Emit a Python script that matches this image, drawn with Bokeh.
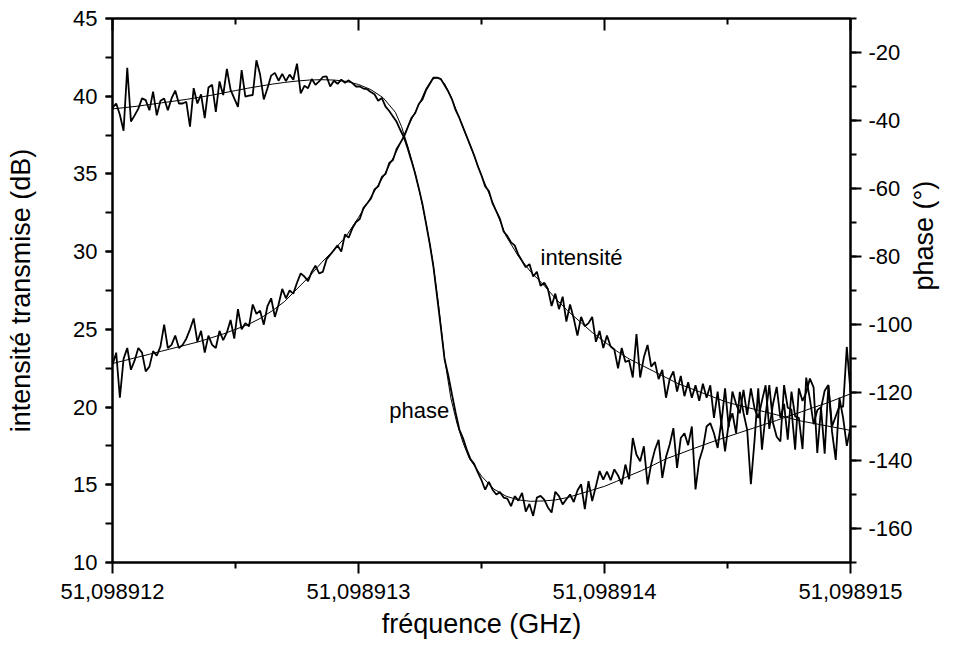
import math
import numpy as np
from bokeh.plotting import figure
from bokeh.models import (Range1d, LinearAxis, SingleIntervalTicker, FixedTicker, Label,
                          NumeralTickFormatter, CustomLabelingPolicy)
from bokeh.embed import file_html
from bokeh.resources import INLINE

# ---------------- data ----------------
# frequency offset from 51,098912 GHz, in units of 1e-6 GHz (kHz)
freq_ticks = [0, 1, 2, 3]
freq_tick_labels = ["51,098912", "51,098913", "51,098914", "51,098915"]
freq_step = 0.015  # sampling step of the measured sweep
n_points = 201

intensity_db = [
    22.7, 23.5, 20.6, 23.1, 23.8, 22.4, 23.0, 23.8, 23.5, 22.3,
    22.6, 23.6, 23.3, 23.9, 25.3, 23.8, 24.0, 24.6, 23.8, 24.0,
    24.4, 25.0, 25.7, 24.2, 24.9, 23.5, 24.6, 24.0, 23.8, 24.9,
    24.3, 24.8, 25.6, 24.4, 26.3, 25.0, 25.4, 25.2, 26.6, 26.0,
    26.2, 25.3, 26.5, 27.0, 25.8, 26.6, 27.6, 27.0, 27.5, 27.3,
    28.0, 28.6, 28.4, 28.1, 28.7, 29.1, 28.6, 28.7, 29.5, 29.8,
    30.1, 30.4, 30.0, 31.1, 30.9, 31.5, 31.9, 32.1, 32.8, 33.1,
    33.4, 34.0, 34.2, 34.8, 35.0, 35.7, 35.9, 36.6, 37.0, 37.4,
    38.0, 38.6, 38.9, 39.5, 39.8, 40.4, 40.8, 41.2, 41.2, 41.1,
    40.7, 40.3, 39.8, 39.1, 38.6, 38.0, 37.4, 36.8, 36.2, 35.5,
    34.9, 34.2, 33.9, 33.1, 32.6, 32.1, 31.3, 31.0, 30.6, 30.4,
    29.8, 29.4, 29.0, 29.2, 28.4, 28.7, 27.8, 28.0, 27.6, 26.5,
    27.3, 26.3, 27.1, 25.5, 26.6, 25.7, 24.6, 25.8, 25.2, 25.4,
    25.8, 24.2, 24.9, 23.8, 24.6, 23.9, 23.7, 22.5, 23.8, 22.9,
    23.0, 21.9, 24.7, 21.9, 23.2, 24.0, 22.6, 22.9, 21.8, 22.4,
    20.6, 21.8, 22.3, 21.0, 22.0, 20.7, 21.6, 20.6, 21.4, 20.4,
    21.5, 20.6, 21.4, 19.3, 21.0, 18.9, 21.2, 18.7, 21.0, 20.2,
    19.6, 21.1, 19.5, 21.2, 19.9, 19.3, 20.4, 21.4, 18.6, 20.2,
    21.3, 19.3, 20.2, 17.9, 21.0, 19.4, 19.3, 17.3, 21.9, 20.5,
    18.9, 19.8, 20.0, 17.0, 21.4, 18.4, 16.6, 20.6, 19.3, 17.5, 18.7,
]

phase_deg = [
    -36.3, -35.0, -38.3, -43.0, -24.5, -40.3, -38.5, -36.5, -33.5, -34.0,
    -37.0, -31.5, -38.5, -34.2, -33.5, -37.0, -33.5, -31.2, -35.0, -35.0,
    -34.5, -41.8, -30.5, -35.0, -32.3, -39.3, -30.3, -29.5, -37.5, -28.5,
    -32.5, -24.8, -31.0, -33.5, -36.0, -25.2, -33.0, -32.7, -32.5, -22.3,
    -26.5, -33.8, -30.5, -26.8, -26.0, -28.3, -26.3, -28.4, -26.5, -28.0,
    -23.3, -32.0, -29.8, -30.5, -27.8, -29.5, -28.5, -27.2, -27.0, -30.0,
    -28.3, -29.2, -28.0, -28.9, -28.2, -29.0, -30.0, -30.0, -30.6, -30.8,
    -31.6, -32.3, -34.2, -33.4, -35.9, -37.2, -38.8, -40.4, -42.8, -45.0,
    -48.2, -51.8, -55.5, -59.9, -64.6, -70.5, -76.4, -83.2, -92.1, -101.0,
    -110.3, -115.0, -120.6, -126.0, -130.9, -133.5, -136.8, -139.6, -141.0, -143.5,
    -145.8, -148.6, -146.3, -148.6, -150.0, -149.3, -150.9, -151.2, -153.4, -150.5,
    -151.8, -149.5, -155.0, -152.8, -156.3, -150.9, -150.4, -151.5, -153.8, -155.3,
    -149.2, -150.5, -152.9, -151.4, -150.0, -152.2, -148.8, -147.0, -154.3, -146.1,
    -151.9, -147.6, -143.1, -145.6, -143.3, -145.8, -142.6, -144.4, -147.0, -141.2,
    -145.5, -133.4, -138.3, -140.2, -135.8, -147.0, -141.0, -136.8, -133.9, -145.1,
    -139.0, -135.3, -130.5, -142.2, -133.4, -132.0, -135.5, -130.0, -148.5, -140.0,
    -136.5, -130.0, -129.0, -132.0, -136.3, -128.5, -137.3, -129.0, -126.1, -132.0,
    -119.8, -126.0, -131.0, -147.0, -134.0, -118.8, -136.8, -126.5, -117.8, -129.0,
    -133.0, -134.4, -117.8, -124.5, -125.0, -136.8, -118.8, -122.5, -120.0, -115.9,
    -118.5, -137.8, -124.7, -119.5, -117.8, -130.0, -127.0, -124.0, -124.2, -106.6, -119.8,
]

int_fit_freq = [0.00, 0.05, 0.10, 0.15, 0.20, 0.25, 0.30, 0.35, 0.40, 0.45,
                0.50, 0.55, 0.60, 0.65, 0.70, 0.75, 0.80, 0.85, 0.90, 0.95,
                1.00, 1.05, 1.10, 1.15, 1.20, 1.25, 1.275, 1.30, 1.325, 1.35,
                1.375, 1.40, 1.45, 1.50, 1.55, 1.60, 1.65, 1.70, 1.75, 1.80,
                1.85, 1.90, 1.95, 2.00, 2.05, 2.10, 2.15, 2.20, 2.25, 2.30,
                2.35, 2.40, 2.45, 2.50, 2.55, 2.60, 2.65, 2.70, 2.75, 2.80,
                2.85, 2.90, 2.95, 3.00]
int_fit_db = [22.8, 23.0, 23.2, 23.4, 23.6, 23.8, 24.0, 24.2, 24.45, 24.7,
              25.0, 25.3, 25.7, 26.2, 26.8, 27.6, 28.4, 29.3, 30.1, 31.0,
              32.2, 33.5, 34.8, 36.3, 38.0, 39.6, 40.5, 41.1, 41.2, 40.8,
              40.0, 39.0, 37.0, 34.9, 33.0, 31.0, 29.7, 28.7, 27.9, 27.0,
              26.2, 25.5, 24.8, 24.2, 23.6, 23.1, 22.7, 22.3, 21.9, 21.5,
              21.2, 20.9, 20.6, 20.3, 20.1, 19.9, 19.7, 19.5, 19.3, 19.1,
              18.95, 18.8, 18.65, 18.5]

ph_fit_freq = [0.00, 0.05, 0.10, 0.15, 0.20, 0.25, 0.30, 0.35, 0.40, 0.45,
               0.50, 0.55, 0.60, 0.65, 0.70, 0.75, 0.80, 0.85, 0.90, 0.95,
               1.00, 1.05, 1.10, 1.15, 1.175, 1.20, 1.225, 1.25, 1.275, 1.30,
               1.325, 1.35, 1.375, 1.40, 1.425, 1.45, 1.50, 1.55, 1.60, 1.65,
               1.70, 1.75, 1.80, 1.85, 1.90, 1.95, 2.00, 2.05, 2.10, 2.15,
               2.20, 2.25, 2.30, 2.35, 2.40, 2.45, 2.50, 2.55, 2.60, 2.65,
               2.70, 2.75, 2.80, 2.85, 2.90, 2.95, 3.00]
ph_fit_deg = [-36.6, -36.2, -35.8, -35.3, -34.8, -34.3, -33.8, -33.2, -32.6, -31.9,
              -31.2, -30.5, -29.9, -29.3, -28.8, -28.4, -28.1, -28.0, -28.1, -28.5,
              -29.4, -30.9, -33.3, -37.6, -41.8, -47.5, -54.0, -61.5, -70.3, -80.5,
              -94.0, -110.0, -121.5, -129.0, -134.8, -139.3, -144.6, -148.4, -150.5, -151.6,
              -152.0, -151.9, -151.6, -150.9, -149.8, -148.7, -147.6, -146.1, -144.5, -143.0,
              -141.3, -139.5, -138.2, -136.8, -135.5, -134.2, -133.0, -131.8, -130.6, -129.4,
              -128.2, -126.9, -125.7, -124.4, -123.2, -121.8, -120.4]

freq = np.round(np.arange(n_points) * freq_step, 4)

# ---------------- figure ----------------
FONT = "Liberation Sans"
TICK_PX = "22px"
LABEL_PX = "27px"

p = figure(width=956, height=650, output_backend="svg", toolbar_location=None,
           x_range=Range1d(0, 3), y_range=Range1d(10, 45),
           x_axis_type=None, y_axis_type=None,
           min_border_left=112, min_border_right=103,
           min_border_top=14, min_border_bottom=88)
p.extra_y_ranges = {"phase": Range1d(-170, -10)}
p.outline_line_color = "black"
p.outline_line_width = 2
p.background_fill_color = "white"
p.border_fill_color = "white"


def style(ax, tick_out=11, minor_out=6):
    ax.axis_line_width = 2
    ax.axis_line_color = "black"
    ax.major_tick_line_width = 2
    ax.minor_tick_line_width = 2
    ax.major_tick_line_color = "black"
    ax.minor_tick_line_color = "black"
    ax.major_tick_in = 0
    ax.minor_tick_in = 0
    ax.major_tick_out = tick_out
    ax.minor_tick_out = minor_out
    ax.major_label_text_font = FONT
    ax.major_label_text_font_size = TICK_PX
    ax.major_label_text_color = "black"
    ax.axis_label_text_font = FONT
    ax.axis_label_text_font_size = LABEL_PX
    ax.axis_label_text_font_style = "normal"
    ax.axis_label_text_color = "black"


bottom = LinearAxis(ticker=FixedTicker(ticks=freq_ticks, minor_ticks=[0.5, 1.5, 2.5]),
                    axis_label="fréquence (GHz)")
bottom.major_label_overrides = {t: lab for t, lab in zip(freq_ticks, freq_tick_labels)}
style(bottom)
bottom.major_label_standoff = 10
bottom.axis_label_standoff = 7
p.add_layout(bottom, "below")

# top frame edge: inward ticks only, no labels
top = LinearAxis(ticker=FixedTicker(ticks=freq_ticks, minor_ticks=[0.5, 1.5, 2.5]),
                 major_label_policy=CustomLabelingPolicy(
                     code="for (const i of [...indices]) indices.unset(i); return indices"))
style(top)
top.major_tick_out = 0
top.minor_tick_out = 0
top.major_tick_in = 12
top.minor_tick_in = 6
top.major_label_standoff = 0
p.add_layout(top, "above")

left = LinearAxis(ticker=SingleIntervalTicker(interval=5, num_minor_ticks=2),
                  axis_label="intensité transmise (dB)")
style(left, tick_out=7, minor_out=7)
left.major_label_standoff = 8
left.axis_label_standoff = 34
p.add_layout(left, "left")

right = LinearAxis(y_range_name="phase",
                   ticker=SingleIntervalTicker(interval=20, num_minor_ticks=2),
                   formatter=NumeralTickFormatter(format="0"),
                   axis_label="phase (°)")
style(right)
right.major_label_standoff = 7
right.axis_label_standoff = 8
right.axis_label_orientation = math.pi / 2
p.add_layout(right, "right")

p.line(freq, intensity_db, line_color="black", line_width=1.8)
p.line(int_fit_freq, int_fit_db, line_color="black", line_width=1)
p.line(freq, phase_deg, y_range_name="phase", line_color="black", line_width=1.8)
p.line(ph_fit_freq, ph_fit_deg, y_range_name="phase", line_color="black", line_width=1)

p.add_layout(Label(x=1.74, y=29.6, text="intensité", text_font=FONT,
                   text_font_size=TICK_PX, text_color="black",
                   text_baseline="alphabetic", text_align="left"))
p.add_layout(Label(x=1.125, y=19.8, text="phase", text_font=FONT,
                   text_font_size=TICK_PX, text_color="black",
                   text_baseline="alphabetic", text_align="left"))

open("out.html", "w").write(file_html(p, INLINE))
